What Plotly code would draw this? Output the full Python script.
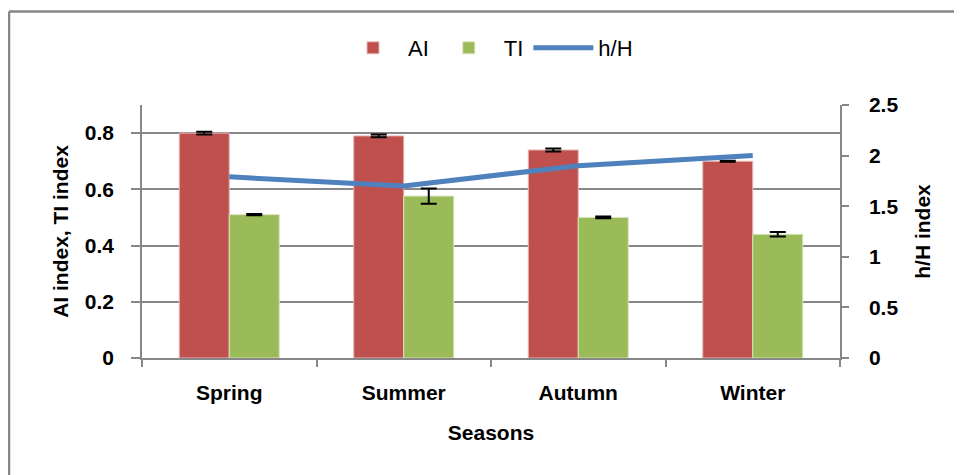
import plotly.graph_objects as go

seasons = ["Spring", "Summer", "Autumn", "Winter"]
ai_values = [0.80, 0.79, 0.74, 0.70]
ai_err = [0.005, 0.005, 0.005, 0.002]
ti_values = [0.51, 0.576, 0.50, 0.44]
ti_err = [0.002, 0.027, 0.003, 0.008]
hH_values = [1.79, 1.70, 1.90, 2.00]

FONT = "Liberation Sans, Arial, sans-serif"
GRAY = "#878787"
FS = 21

fig = go.Figure()
fig.add_trace(go.Bar(
    x=seasons, y=ai_values, name="AI",
    marker=dict(color="#C0504D", line=dict(color="#E6B9B8", width=1)),
    error_y=dict(type="data", array=ai_err, visible=True, color="black", thickness=2, width=8),
))
fig.add_trace(go.Bar(
    x=seasons, y=ti_values, name="TI",
    marker=dict(color="#9BBB59", line=dict(color="#D7E4BD", width=1)),
    error_y=dict(type="data", array=ti_err, visible=True, color="black", thickness=2, width=8),
))
fig.add_trace(go.Scatter(
    x=seasons, y=hH_values, name="h/H", yaxis="y2", mode="lines",
    line=dict(color="#4F81BD", width=5),
))

W, H = 954, 467
L, T, pw, ph = 134, 97, 698, 253
R, B = W - L - pw, H - T - ph
bx = (1 - L) / pw
by = 1 + (T - 3.5) / ph

fig.update_layout(
    width=W, height=H,
    margin=dict(l=L, r=R, t=T, b=B),
    paper_bgcolor="white", plot_bgcolor="white",
    barmode="group", bargap=0.427, bargroupgap=0,
    font=dict(family=FONT, color="black"),
    showlegend=True,
    legend=dict(orientation="h", x=(480 - L) / pw, xanchor="center", y=1 + (T - 40) / ph, yanchor="middle",
                font=dict(size=22, family=FONT), itemwidth=60, traceorder="normal"),
    xaxis=dict(
        type="category", tickson="boundaries", ticks="outside", ticklen=7, tickcolor=GRAY, tickwidth=1.5,
        showline=True, linecolor=GRAY, linewidth=1.5, showgrid=False,
        tickfont=dict(size=FS, family=FONT, weight="bold"), ticklabelstandoff=15,
        title=dict(text="Seasons", font=dict(size=FS, family=FONT, weight="bold"), standoff=22),
    ),
    yaxis=dict(
        range=[0, 0.9], tickvals=[0, 0.2, 0.4, 0.6, 0.8], ticktext=["0", "0.2", "0.4", "0.6", "0.8"],
        ticks="outside", ticklen=9, tickcolor=GRAY, tickwidth=1.5,
        showline=True, linecolor=GRAY, linewidth=1.5,
        showgrid=True, gridcolor=GRAY, gridwidth=1.5, zeroline=False,
        tickfont=dict(size=FS, family=FONT, weight="bold"), ticklabelstandoff=13,
        title=dict(text="AI index, TI index", font=dict(size=FS, family=FONT, weight="bold"), standoff=10),
    ),
    yaxis2=dict(
        range=[0, 2.5], dtick=0.5, overlaying="y", side="right",
        ticks="outside", ticklen=7, tickcolor=GRAY, tickwidth=1.5,
        showline=True, linecolor=GRAY, linewidth=1.5, showgrid=False, zeroline=False,
        tickfont=dict(size=FS, family=FONT, weight="bold"), ticklabelstandoff=16,
        title=dict(text="h/H index", font=dict(size=FS, family=FONT, weight="bold"), standoff=18),
    ),
    shapes=[
        dict(type="line", xref="paper", yref="paper", x0=bx, x1=bx, y0=by, y1=-1,
             line=dict(color=GRAY, width=2.5)),
        dict(type="line", xref="paper", yref="paper", x0=bx, x1=2, y0=by, y1=by,
             line=dict(color=GRAY, width=2.5)),
    ],
)

fig.write_html("out.html")
